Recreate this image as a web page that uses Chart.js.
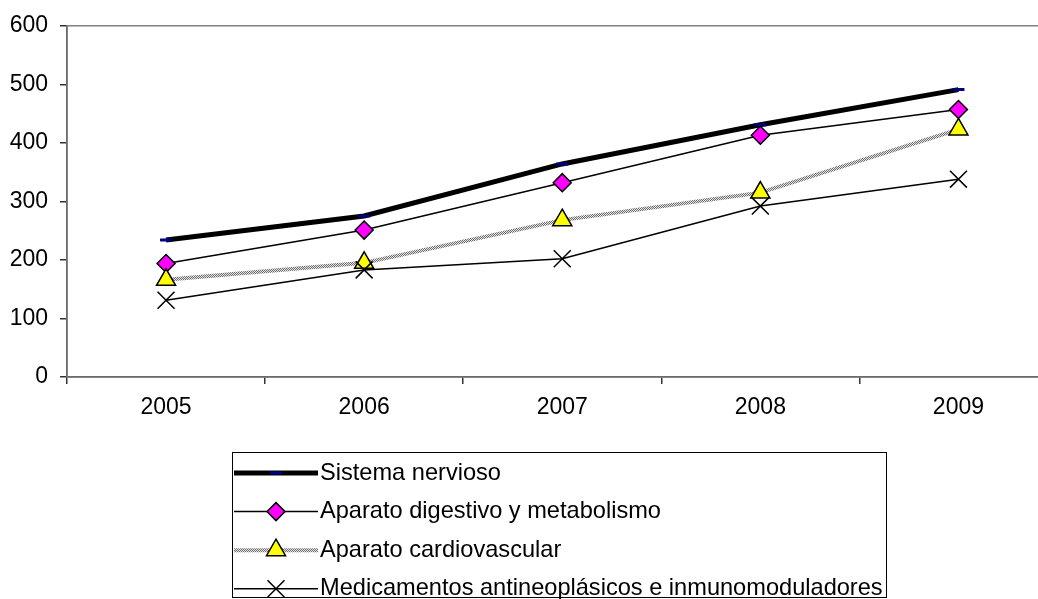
<!DOCTYPE html>
<html>
<head>
<meta charset="utf-8">
<title>Chart</title>
<script src="https://cdn.jsdelivr.net/npm/chart.js@4/dist/chart.umd.min.js"></script>
<style>
  html, body { margin: 0; padding: 0; background: #fff; overflow: hidden; }
  #wrap { width: 1071px; height: 599px; }
</style>
</head>
<body>
<div id="wrap"><canvas id="chart" width="1071" height="599"></canvas></div>
<script>
// data
const years = ["2005", "2006", "2007", "2008", "2009"];
const sistemaNervioso = [234, 275, 364, 431, 491];
const aparatoDigestivo = [194, 251, 332, 413, 457];
const aparatoCardiovascular = [166, 195, 268, 315, 423];
const medicamentosAntineo = [131, 183, 202, 292, 338];
const seriesNames = [
  "Sistema nervioso",
  "Aparato digestivo y metabolismo",
  "Aparato cardiovascular",
  "Medicamentos antineoplásicos e inmunomoduladores"
];

const FONT = "'Liberation Sans', Arial, sans-serif";
const FONT_SIZE = 23;
const LEGEND_FONT_SIZE = 23.6;

// dithered grey stroke for the cardiovascular line
function makeHatch() {
  const c = document.createElement("canvas");
  c.width = 2; c.height = 2;
  const g = c.getContext("2d");
  g.fillStyle = "#e4e4e4"; g.fillRect(0, 0, 2, 2);
  g.fillStyle = "#6e6e6e"; g.fillRect(0, 0, 1, 1); g.fillRect(1, 1, 1, 1);
  return g.createPattern(c, "repeat");
}
const ctx = document.getElementById("chart").getContext("2d");
const hatch = makeHatch();

function drawMarker(c, ds, x, y) {
  const r = ds.pointRadius;
  c.beginPath();
  if (ds.pointStyle === "line") {
    c.moveTo(x - r, y); c.lineTo(x + r, y);
  } else if (ds.pointStyle === "rectRot") {
    c.moveTo(x - r, y); c.lineTo(x, y - r); c.lineTo(x + r, y); c.lineTo(x, y + r); c.closePath();
  } else if (ds.pointStyle === "triangle") {
    const a = 2 * Math.PI / 3;
    c.moveTo(x, y - r);
    c.lineTo(x + Math.sin(a) * r, y - Math.cos(a) * r);
    c.lineTo(x + Math.sin(2 * a) * r, y - Math.cos(2 * a) * r);
    c.closePath();
  } else if (ds.pointStyle === "crossRot") {
    const o = Math.SQRT1_2 * r;
    c.moveTo(x - o, y - o); c.lineTo(x + o, y + o);
    c.moveTo(x - o, y + o); c.lineTo(x + o, y - o);
  }
  if (ds.pointStyle === "rectRot" || ds.pointStyle === "triangle") {
    c.fillStyle = ds.pointBackgroundColor;
    c.fill();
  }
  c.strokeStyle = ds.pointBorderColor;
  c.lineWidth = ds.pointBorderWidth;
  c.stroke();
}

const plotBorder = {
  id: "plotBorder",
  beforeDatasetsDraw(chart) {
    const a = chart.chartArea;
    const c = chart.ctx;
    c.save();
    c.strokeStyle = "#808080";
    c.lineWidth = 1.5;
    c.strokeRect(a.left, a.top, a.right - a.left, a.bottom - a.top);
    c.restore();
  }
};

const boxLegend = {
  id: "boxLegend",
  afterDraw(chart) {
    const c = chart.ctx;
    c.save();
    c.strokeStyle = "#000";
    c.lineWidth = 1;
    c.strokeRect(232.5, 452.5, 654, 145);
    chart.data.datasets.forEach((ds, i) => {
      const y = 473 + i * 38.6;
      c.beginPath();
      c.moveTo(234, y); c.lineTo(318, y);
      c.strokeStyle = ds.borderColor;
      c.lineWidth = ds.borderWidth;
      c.stroke();
      drawMarker(c, ds, 276, y);
      c.fillStyle = "#000";
      c.font = LEGEND_FONT_SIZE + "px " + FONT;
      c.textBaseline = "middle";
      c.textAlign = "left";
      c.fillText(ds.label, 320, y);
    });
    c.restore();
  }
};

const chart = new Chart(ctx, {
  type: "line",
  data: {
    labels: years,
    datasets: [{
      label: seriesNames[0],
      data: sistemaNervioso,
      borderColor: "#000",
      borderWidth: 5,
      pointStyle: "line",
      pointRadius: 6,
      pointBorderColor: "#000080",
      pointBackgroundColor: "#000080",
      pointBorderWidth: 3,
      order: 4
    }, {
      label: seriesNames[1],
      data: aparatoDigestivo,
      borderColor: "#000",
      borderWidth: 1.5,
      pointStyle: "rectRot",
      pointRadius: 9,
      pointBorderColor: "#000",
      pointBackgroundColor: "#ff00ff",
      pointBorderWidth: 1.5,
      order: 3
    }, {
      label: seriesNames[2],
      data: aparatoCardiovascular,
      borderColor: hatch,
      borderWidth: 4,
      pointStyle: "triangle",
      pointRadius: 11,
      pointBorderColor: "#000",
      pointBackgroundColor: "#ffff00",
      pointBorderWidth: 1.5,
      order: 2
    }, {
      label: seriesNames[3],
      data: medicamentosAntineo,
      borderColor: "#000",
      borderWidth: 1.5,
      pointStyle: "crossRot",
      pointRadius: 12,
      pointBorderColor: "#000",
      pointBackgroundColor: "#000",
      pointBorderWidth: 1.5,
      order: 1
    }]
  },
  options: {
    responsive: false,
    animation: false,
    events: [],
    layout: { padding: { left: 0, top: 23, right: 6, bottom: 172 } },
    elements: { line: { tension: 0, fill: false } },
    plugins: { legend: { display: false }, tooltip: { enabled: false } },
    scales: {
      x: {
        offset: true,
        grid: { offset: true, drawOnChartArea: false, drawTicks: true, tickLength: 7, color: "#333", lineWidth: 1.5 },
        border: { display: true, color: "#333", width: 1.5 },
        ticks: { color: "#000", font: { family: FONT, size: FONT_SIZE }, padding: 10, maxRotation: 0 },
        afterFit(scale) { scale.height = 50; }
      },
      y: {
        min: 0,
        max: 600,
        grid: { drawOnChartArea: false, drawTicks: true, tickLength: 7, color: "#333", lineWidth: 1.5 },
        border: { display: true, color: "#333", width: 1.5 },
        ticks: { stepSize: 100, color: "#000", font: { family: FONT, size: FONT_SIZE }, padding: 12 },
        afterFit(scale) { scale.width = 67; }
      }
    }
  },
  plugins: [plotBorder, boxLegend]
});
</script>
</body>
</html>
